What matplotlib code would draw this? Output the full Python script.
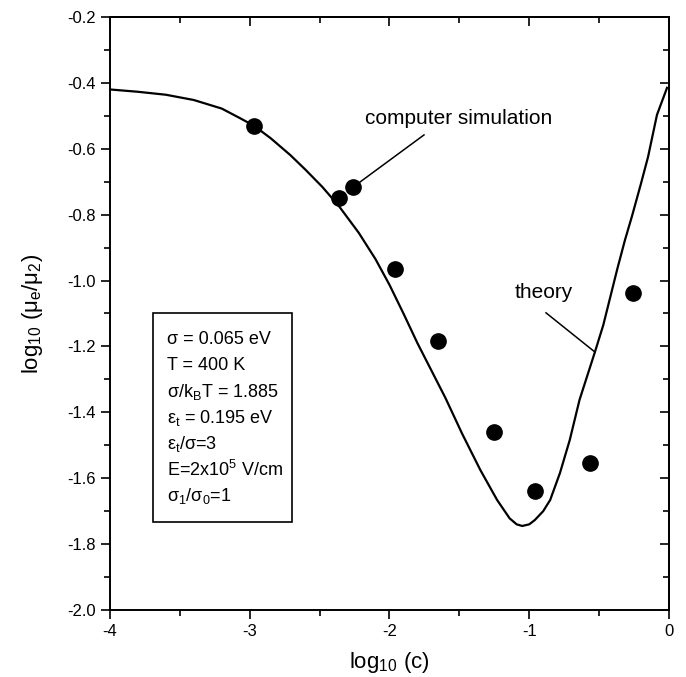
import numpy as np
import matplotlib
matplotlib.use('Agg')
import matplotlib.pyplot as plt
from matplotlib.patches import Rectangle
from matplotlib.ticker import MultipleLocator

plt.rcParams['font.family'] = ['Liberation Sans', 'DejaVu Sans']
plt.rcParams['mathtext.default'] = 'regular'

# theory curve
theory_x = [-4.0, -3.8, -3.6, -3.4, -3.2, -3.07, -2.97, -2.85, -2.71, -2.6,
            -2.48, -2.36, -2.22, -2.1, -2.0, -1.9, -1.8, -1.7, -1.6, -1.48,
            -1.35, -1.23, -1.14, -1.09, -1.05, -1.0, -0.96, -0.9, -0.85,
            -0.78, -0.71, -0.64, -0.53, -0.47, -0.42, -0.37, -0.315, -0.265,
            -0.2, -0.15, -0.086, -0.014]
theory_y = [-0.42, -0.427, -0.436, -0.452, -0.478, -0.507, -0.53, -0.568, -0.619, -0.664,
            -0.716, -0.775, -0.855, -0.935, -1.013, -1.1, -1.19, -1.273, -1.356, -1.465,
            -1.575, -1.666, -1.722, -1.74, -1.745, -1.74, -1.727, -1.7, -1.666,
            -1.584, -1.484, -1.362, -1.217, -1.135, -1.05, -0.965, -0.877, -0.805,
            -0.705, -0.625, -0.497, -0.415]

# simulation points
sim_x = [-2.97, -2.36, -2.26, -1.96, -1.65, -1.25, -0.96, -0.565, -0.257]
sim_y = [-0.531, -0.749, -0.716, -0.965, -1.183, -1.459, -1.639, -1.554, -1.038]

params = ['σ = 0.065 eV', 'T = 400 K', 'σ/k$_B$T = 1.885', 'ε$_t$ = 0.195 eV',
          'ε$_t$/σ=3', 'E=2x10$^5$ V/cm', 'σ$_1$/σ$_0$=1']

fig = plt.figure(figsize=(6.86, 6.77), dpi=100)
ax = fig.add_axes([0.1603, 0.0990, 0.8149, 0.8759])

ax.plot(theory_x, theory_y, color='black', lw=1.6)
ax.plot(sim_x, sim_y, 'o', color='black', ms=11)

ax.set_xlim(-4, 0)
ax.set_ylim(-2.0, -0.2)
ax.xaxis.set_major_locator(MultipleLocator(1))
ax.xaxis.set_minor_locator(MultipleLocator(0.5))
ax.yaxis.set_major_locator(MultipleLocator(0.2))
ax.yaxis.set_minor_locator(MultipleLocator(0.1))
ax.xaxis.set_major_formatter(plt.FuncFormatter(lambda v, p: '%d' % round(v)))
ax.yaxis.set_major_formatter(plt.FuncFormatter(lambda v, p: '%.1f' % v))

for s in ax.spines.values():
    s.set_linewidth(1.4)
ax.tick_params(which='both', direction='out', labelsize=12, width=1.2)
ax.tick_params(which='major', length=6.5)
ax.tick_params(which='minor', length=4)
# mirrored ticks on top/right point inward
sec_x = ax.secondary_xaxis('top')
sec_x.xaxis.set_major_locator(MultipleLocator(1))
sec_x.xaxis.set_minor_locator(MultipleLocator(0.5))
sec_x.tick_params(which='both', direction='in', labeltop=False, width=1.2)
sec_x.tick_params(which='major', length=6.5)
sec_x.tick_params(which='minor', length=4)
sec_x.spines['top'].set_linewidth(1.4)
sec_y = ax.secondary_yaxis('right')
sec_y.yaxis.set_major_locator(MultipleLocator(0.2))
sec_y.yaxis.set_minor_locator(MultipleLocator(0.1))
sec_y.tick_params(which='both', direction='in', labelright=False, width=1.2)
sec_y.tick_params(which='major', length=6.5)
sec_y.tick_params(which='minor', length=4)
sec_y.spines['right'].set_linewidth(1.4)

ax.set_xlabel('log$_{10}$ (c)', fontsize=16, labelpad=8)
ax.set_ylabel('log$_{10}$ (μ$_e$/μ$_2$)', fontsize=16, labelpad=16)

# annotations
ax.text(-2.175, -0.507, 'computer simulation', fontsize=15, va='center', ha='left')
ax.plot([-1.753, -2.211], [-0.558, -0.701], color='black', lw=1.1)
ax.text(-1.102, -1.035, 'theory', fontsize=15, va='center', ha='left')
ax.plot([-0.88, -0.53], [-1.098, -1.217], color='black', lw=1.1)

# parameter box
ax.add_patch(Rectangle((-3.692, -1.733), 0.994, 0.635, fill=False,
                       edgecolor='black', lw=1.2))
for i, line in enumerate(params):
    ax.text(-3.592, -1.180 - i * 0.0789, line, fontsize=13, va='center', ha='left')

fig.savefig('out.png', dpi=100)
